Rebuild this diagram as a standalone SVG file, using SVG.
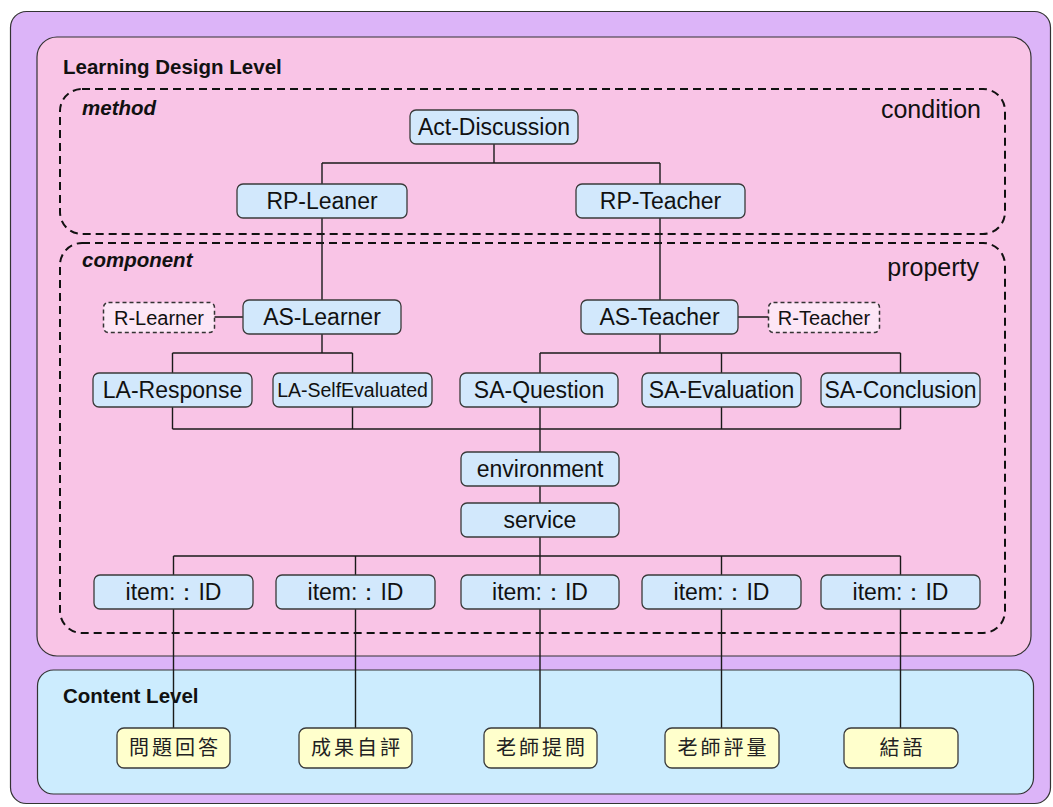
<svg xmlns="http://www.w3.org/2000/svg" width="1053" height="807" viewBox="0 0 1053 807">
  <style>
    .node rect { fill: #d2e8fc; stroke: #3a3a3a; stroke-width: 1.3; }
    .node text { font-family: "Liberation Sans", Arial, sans-serif; font-size: 23px; fill: #111; text-anchor: middle; }
    .role rect { fill: #fde6f6; stroke: #333; stroke-width: 1.5; stroke-dasharray: 4 3; }
    .role text { font-family: "Liberation Sans", Arial, sans-serif; font-size: 20px; fill: #111; text-anchor: middle; }
    .content rect { fill: #ffffcc; stroke: #3a3a3a; stroke-width: 1.3; }
    .content text { font-family: "Noto Sans CJK TC", "Noto Sans CJK SC", sans-serif; font-size: 20px; letter-spacing: 3px; fill: #222; text-anchor: middle; }
    .title { font-family: "Liberation Sans", Arial, sans-serif; font-size: 20.5px; font-weight: bold; fill: #111; }
    .scope { font-family: "Liberation Sans", Arial, sans-serif; font-size: 20.5px; font-weight: bold; font-style: italic; fill: #111; }
    .side { font-family: "Liberation Sans", Arial, sans-serif; font-size: 25px; fill: #111; text-anchor: end; }
    .frame { fill: none; stroke: #111; stroke-width: 2; stroke-dasharray: 8 5; }
    #connectors path { fill: none; stroke: #1a1a1a; stroke-width: 1.4; }
  </style>

  <!-- level panels -->
  <g id="background">
    <rect x="10.5" y="11.5" width="1040" height="792" rx="16" fill="#dcb4f8" stroke="#333" stroke-width="1.2"/>
    <rect x="37" y="37" width="994" height="619" rx="20" fill="#f9c4e6" stroke="#333" stroke-width="1.2"/>
    <rect x="37.5" y="670" width="996" height="124" rx="16" fill="#ccecfe" stroke="#333" stroke-width="1.2"/>
    <text class="title" x="63" y="74">Learning Design Level</text>
    <text class="title" x="63" y="703">Content Level</text>
  </g>

  <!-- method / component frames -->
  <g id="method-frame">
    <rect class="frame" x="60" y="89" width="945" height="145" rx="22"/>
    <text class="scope" x="82" y="115">method</text>
    <text class="side" x="981" y="118">condition</text>
  </g>
  <g id="component-frame">
    <rect class="frame" x="60" y="243" width="945" height="390" rx="22"/>
    <text class="scope" x="82" y="267">component</text>
    <text class="side" x="979" y="276">property</text>
  </g>

  <!-- connectors -->
  <g id="connectors">
    <path d="M494 144 V163 M322 163 H660 M322 163 V184 M660 163 V184"/>
    <path d="M322 218 V300 M660 218 V300"/>
    <path d="M214 317 H243 M738 317 H768"/>
    <path d="M322 334 V353 M172.5 353 H352.5 M172.5 353 V373 M352.5 353 V373"/>
    <path d="M660 334 V353 M540 353 H900.5 M540 353 V373 M721.5 353 V373 M900.5 353 V373"/>
    <path d="M172.5 407 V429 M352.5 407 V429 M721.5 407 V429 M900.5 407 V429 M172.5 429 H900.5 M540 407 V452"/>
    <path d="M540 486 V503"/>
    <path d="M540 537 V556 M173.5 556 H900.5 M173.5 556 V575 M355.5 556 V575 M540 556 V575 M721.5 556 V575 M900.5 556 V575"/>
    <path d="M173.5 609 V728 M355.5 609 V728 M540 609 V728 M721.5 609 V728 M900.5 609 V728"/>
  </g>

  <!-- method nodes -->
  <g id="act-discussion" class="node"><rect x="410" y="110" width="168" height="34" rx="6"/><text x="494" y="135">Act-Discussion</text></g>
  <g id="rp-leaner" class="node"><rect x="237" y="184" width="170" height="34" rx="6"/><text x="322" y="209">RP-Leaner</text></g>
  <g id="rp-teacher" class="node"><rect x="576" y="184" width="169" height="34" rx="6"/><text x="660.5" y="209">RP-Teacher</text></g>

  <!-- component nodes -->
  <g id="r-learner" class="role"><rect x="103.5" y="302.5" width="111" height="30" rx="5"/><text x="159" y="325">R-Learner</text></g>
  <g id="as-learner" class="node"><rect x="243" y="300" width="158" height="34" rx="6"/><text x="322" y="325">AS-Learner</text></g>
  <g id="as-teacher" class="node"><rect x="581" y="300" width="157" height="34" rx="6"/><text x="659.5" y="325">AS-Teacher</text></g>
  <g id="r-teacher" class="role"><rect x="768.5" y="302.5" width="111" height="30" rx="5"/><text x="824" y="325">R-Teacher</text></g>

  <g id="la-response" class="node"><rect x="93" y="373" width="159" height="34" rx="6"/><text x="172.5" y="398">LA-Response</text></g>
  <g id="la-selfevaluated" class="node"><rect x="273" y="373" width="159" height="34" rx="6"/><text x="352.5" y="397" style="font-size:19.5px">LA-SelfEvaluated</text></g>
  <g id="sa-question" class="node"><rect x="460" y="373" width="158" height="34" rx="6"/><text x="539" y="398">SA-Question</text></g>
  <g id="sa-evaluation" class="node"><rect x="642" y="373" width="159" height="34" rx="6"/><text x="721.5" y="398">SA-Evaluation</text></g>
  <g id="sa-conclusion" class="node"><rect x="821" y="373" width="159" height="34" rx="6"/><text x="900.5" y="398">SA-Conclusion</text></g>

  <g id="environment" class="node"><rect x="461" y="452" width="158" height="34" rx="6"/><text x="540" y="477">environment</text></g>
  <g id="service" class="node"><rect x="461" y="503" width="158" height="34" rx="6"/><text x="540" y="528">service</text></g>

  <g id="item-1" class="node"><rect x="94" y="575" width="159" height="34" rx="6"/><text x="173.5" y="600">item:：ID</text></g>
  <g id="item-2" class="node"><rect x="276" y="575" width="159" height="34" rx="6"/><text x="355.5" y="600">item:：ID</text></g>
  <g id="item-3" class="node"><rect x="461" y="575" width="158" height="34" rx="6"/><text x="540" y="600">item:：ID</text></g>
  <g id="item-4" class="node"><rect x="642" y="575" width="159" height="34" rx="6"/><text x="721.5" y="600">item:：ID</text></g>
  <g id="item-5" class="node"><rect x="821" y="575" width="159" height="34" rx="6"/><text x="900.5" y="600">item:：ID</text></g>

  <!-- content resources -->
  <g id="content-1" class="content"><rect x="117" y="728" width="113" height="40" rx="7"/><text x="175" y="755">問題回答</text></g>
  <g id="content-2" class="content"><rect x="299" y="728" width="113" height="40" rx="7"/><text x="357" y="755">成果自評</text></g>
  <g id="content-3" class="content"><rect x="484" y="728" width="113" height="40" rx="7"/><text x="542" y="755">老師提問</text></g>
  <g id="content-4" class="content"><rect x="665" y="728" width="114" height="40" rx="7"/><text x="723.5" y="755">老師評量</text></g>
  <g id="content-5" class="content"><rect x="844" y="728" width="114" height="40" rx="7"/><text x="902.5" y="755">結語</text></g>
</svg>
